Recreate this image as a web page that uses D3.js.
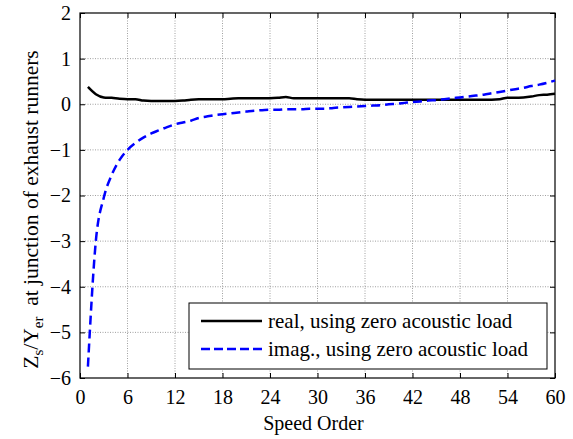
<!DOCTYPE html>
<html lang="en">
  <head>
    <meta charset="UTF-8" />
    <title>Speed order</title>
    <script src="https://d3js.org/d3.v7.min.js"></script>
    <style>
      body { margin: 0; background: #fff; }
      svg text { font-family: "Liberation Serif", "Times New Roman", serif; fill: #000; }
      .grid line { stroke: #888; stroke-width: 0.8px; stroke-dasharray: 1,1.5; }
      .frame { fill: none; stroke: #000; stroke-width: 1.2px; }
    </style>
  </head>
  <body>
    <svg id="chart" width="573" height="439"></svg>
    <script>
      // speed orders and the two series
      const orders = d3.range(1, 61);
      const realVals = [0.38, 0.22, 0.15, 0.14, 0.12, 0.11, 0.11, 0.08, 0.07, 0.07,
        0.07, 0.07, 0.08, 0.10, 0.11, 0.11, 0.11, 0.11, 0.12, 0.13,
        0.13, 0.13, 0.13, 0.13, 0.14, 0.16, 0.13, 0.13, 0.13, 0.13,
        0.13, 0.13, 0.13, 0.13, 0.11, 0.10, 0.10, 0.10, 0.10, 0.10,
        0.10, 0.10, 0.10, 0.10, 0.10, 0.10, 0.10, 0.10, 0.10, 0.10,
        0.10, 0.10, 0.11, 0.14, 0.14, 0.15, 0.17, 0.20, 0.21, 0.23];
      const imagVals = [-5.75, -3.0, -2.05, -1.55, -1.22, -1.0, -0.85, -0.73, -0.64, -0.57,
        -0.50, -0.44, -0.40, -0.36, -0.30, -0.27, -0.24, -0.22, -0.20, -0.18,
        -0.16, -0.14, -0.13, -0.12, -0.12, -0.11, -0.11, -0.11, -0.10, -0.10,
        -0.10, -0.08, -0.07, -0.06, -0.05, -0.04, -0.03, -0.02, 0.0, 0.01,
        0.03, 0.05, 0.06, 0.08, 0.09, 0.11, 0.13, 0.15, 0.17, 0.19,
        0.21, 0.24, 0.27, 0.30, 0.33, 0.36, 0.40, 0.43, 0.47, 0.52];
      const xTicks = d3.range(0, 61, 6);
      const yTicks = d3.range(-6, 3, 1);
      const legendLabels = ["real, using zero acoustic load", "imag., using zero acoustic load"];

      const svg = d3.select("#chart");
      const margin = { top: 13, right: 18, bottom: 61, left: 80 };
      const width = 573 - margin.left - margin.right;
      const height = 439 - margin.top - margin.bottom;
      const serif = "'Liberation Serif', 'Times New Roman', serif";

      const g = svg.append("g")
        .attr("transform", "translate(" + margin.left + "," + margin.top + ")");

      const x = d3.scaleLinear().domain([0, 60]).range([0, width]);
      const y = d3.scaleLinear().domain([-6, 2]).range([height, 0]);

      // dotted grid
      g.append("g").attr("class", "grid")
        .selectAll("line").data(xTicks.slice(1, -1)).join("line")
        .attr("x1", d => x(d)).attr("x2", d => x(d))
        .attr("y1", 0).attr("y2", height);
      g.append("g").attr("class", "grid")
        .selectAll("line").data(yTicks.slice(1, -1)).join("line")
        .attr("x1", 0).attr("x2", width)
        .attr("y1", d => y(d)).attr("y2", d => y(d));

      // axes, ticks pointing inward on all four sides
      const bottomAx = g.append("g").attr("transform", "translate(0," + height + ")")
        .call(d3.axisBottom(x).tickValues(xTicks).tickSizeInner(-5).tickSizeOuter(0).tickPadding(12));
      const leftAx = g.append("g")
        .call(d3.axisLeft(y).tickValues(yTicks).tickSizeInner(-5).tickSizeOuter(0).tickPadding(9));
      g.append("g")
        .call(d3.axisTop(x).tickValues(xTicks).tickSizeInner(-5).tickSizeOuter(0).tickFormat(""));
      g.append("g").attr("transform", "translate(" + width + ",0)")
        .call(d3.axisRight(y).tickValues(yTicks).tickSizeInner(-5).tickSizeOuter(0).tickFormat(""));
      g.selectAll(".domain").remove();
      g.selectAll(".tick line").attr("stroke", "#000");
      [bottomAx, leftAx].forEach(a => {
        a.attr("font-family", serif).attr("font-size", 20);
        a.selectAll("text").style("font-family", serif).style("font-size", "20px");
      });

      g.append("rect").attr("class", "frame")
        .attr("width", width).attr("height", height);

      // series
      const line = d3.line().x(d => x(d[0])).y(d => y(d[1])).curve(d3.curveMonotoneX);
      g.append("path")
        .datum(d3.zip(orders, realVals))
        .attr("fill", "none").attr("stroke", "#000").attr("stroke-width", 2.5)
        .attr("d", line);
      g.append("path")
        .datum(d3.zip(orders, imagVals))
        .attr("fill", "none").attr("stroke", "#0000ff").attr("stroke-width", 2.5)
        .attr("stroke-dasharray", "9,5")
        .attr("d", line);

      // legend
      const lg = svg.append("g").attr("transform", "translate(189,303)");
      lg.append("rect").attr("width", 358).attr("height", 66)
        .attr("fill", "#fff").attr("stroke", "#000").attr("stroke-width", 1);
      const styles = [{ c: "#000", dash: null }, { c: "#0000ff", dash: "9,4" }];
      legendLabels.forEach((t, i) => {
        const yy = 18 + i * 28;
        lg.append("line").attr("x1", 12).attr("x2", 73).attr("y1", yy).attr("y2", yy)
          .attr("stroke", styles[i].c).attr("stroke-width", 2.5)
          .attr("stroke-dasharray", styles[i].dash);
        lg.append("text").attr("x", 79).attr("y", yy).attr("dy", "0.35em")
          .style("font-family", serif).style("font-size", "21px").text(t);
      });

      // axis titles
      svg.append("text")
        .attr("x", margin.left + width / 2 - 4).attr("y", 430)
        .attr("text-anchor", "middle")
        .style("font-family", serif).style("font-size", "20px")
        .text("Speed Order");

      const yl = svg.append("text")
        .attr("transform", "translate(38," + (margin.top + height / 2 + 14) + ") rotate(-90)")
        .attr("text-anchor", "middle")
        .style("font-family", serif).style("font-size", "21.5px");
      yl.append("tspan").text("Z");
      yl.append("tspan").attr("dy", 5).style("font-size", "15px").text("s");
      yl.append("tspan").attr("dy", -5).text("/Y");
      yl.append("tspan").attr("dy", 5).style("font-size", "15px").text("er");
      yl.append("tspan").attr("dy", -5).text("\u00a0 at junction of exhaust runners");
    </script>
  </body>
</html>
